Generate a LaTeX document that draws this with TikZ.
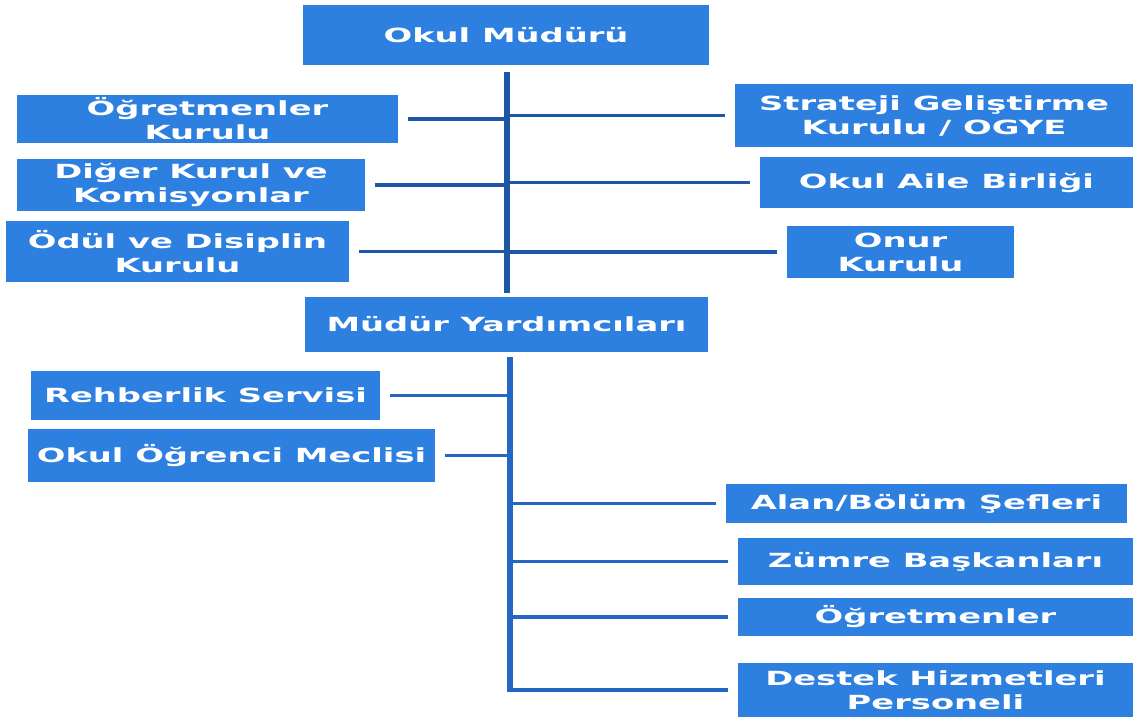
\documentclass[tikz,border=0pt]{standalone}
\usepackage{fontspec}
\newfontfamily\semafont{DejaVu Sans}[FakeStretch=1.73]
\usetikzlibrary{calc}
\definecolor{kutumavi}{HTML}{2E80E0}
\definecolor{ustcizgi}{HTML}{1D56A6}
\definecolor{altcizgi}{HTML}{2366C4}

\begin{document}
\begin{tikzpicture}[x=1pt, y=-1pt,
		kutu/.style={fill=kutumavi, text=white, inner sep=0pt, align=center,
			font=\semafont\bfseries\fontsize{19.5}{24}\selectfont},
		ana/.style={line width=6pt},
		dal/.style={line width=3.8pt}]
			\useasboundingbox (0,0) rectangle (1133,722);
			\node[kutu, minimum width=406, minimum height=60] (mudur) at (506,35) {Okul Müdürü};
			\node[kutu, minimum width=381, minimum height=48] (ogk) at (207.5,119) {Öğretmenler\\Kurulu};
			\node[kutu, minimum width=398, minimum height=63] (sgk) at (934,115.5) {Strateji Geliştirme\\Kurulu / OGYE};
			\node[kutu, minimum width=348, minimum height=52] (dkk) at (191,185) {Diğer Kurul ve\\Komisyonlar};
			\node[kutu, minimum width=373, minimum height=51] (oab) at (946.5,182.5) {Okul Aile Birliği};
			\node[kutu, minimum width=343, minimum height=61] (odk) at (177.5,251.5) {Ödül ve Disiplin\\Kurulu};
			\node[kutu, minimum width=227, minimum height=52] (onk) at (900.5,252) {Onur\\Kurulu};
			\node[kutu, minimum width=403, minimum height=55] (myd) at (506.5,324.5) {Müdür Yardımcıları};
			\node[kutu, minimum width=349, minimum height=49] (rhs) at (205.5,395.5) {Rehberlik Servisi};
			\node[kutu, minimum width=407, minimum height=53] (oom) at (231.5,455.5) {Okul Öğrenci Meclisi};
			\node[kutu, minimum width=401, minimum height=39] (abs) at (926.5,503.5) {Alan/Bölüm Şefleri};
			\node[kutu, minimum width=395, minimum height=47] (zbk) at (935.5,561.5) {Zümre Başkanları};
			\node[kutu, minimum width=395, minimum height=38] (ogm) at (935.5,617) {Öğretmenler};
			\node[kutu, minimum width=395, minimum height=54] (dhp) at (935.5,690) {Destek Hizmetleri\\Personeli};
			\coordinate (u1) at (506.5,72);
			\coordinate (u2) at (506.5,293);
			\coordinate (a1) at (510,357);
			\coordinate (a2) at (510,692);
			\draw[ana, ustcizgi] (u1) -- (u2);
			\foreach \n in {ogk,dkk,odk}
			\draw[dal, ustcizgi] ([xshift=10pt]\n.east) -- (\n.east -| u1);
			\foreach \n in {sgk,oab,onk}
			\draw[dal, ustcizgi] (\n.west -| u1) -- ([xshift=-10pt]\n.west);
			\draw[ana, altcizgi] (a1) -- (a2);
			\foreach \n in {rhs,oom}
			\draw[dal, altcizgi] ([xshift=10pt]\n.east) -- (\n.east -| a1);
			\foreach \n in {abs,zbk,ogm,dhp}
			\draw[dal, altcizgi] (\n.west -| a1) -- ([xshift=-10pt]\n.west);
		\end{tikzpicture}
\end{document}
